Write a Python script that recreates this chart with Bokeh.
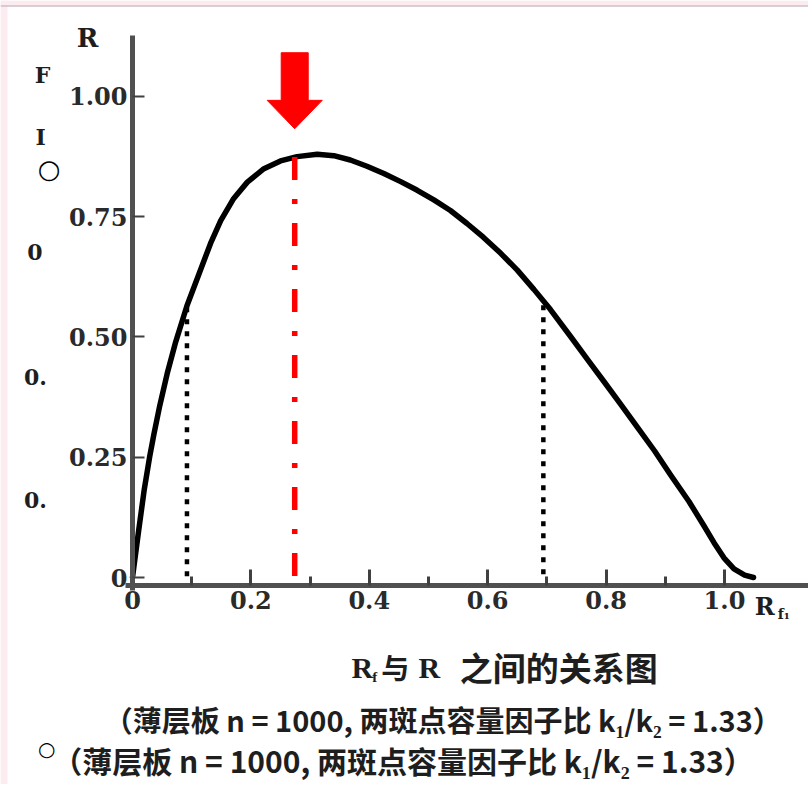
from bokeh.plotting import figure
from bokeh.models import Range1d, FixedTicker, NumeralTickFormatter, Label, BoxAnnotation, Span
from bokeh.embed import file_html
from bokeh.resources import INLINE

# ---- data ----
rf = [0.0, 0.010, 0.020, 0.029, 0.036, 0.046, 0.0586, 0.073, 0.092, 0.115, 0.132,
      0.149, 0.171, 0.194, 0.222, 0.250, 0.278, 0.312, 0.340, 0.368, 0.396,
      0.4245, 0.453, 0.481, 0.509, 0.537, 0.565, 0.593, 0.622, 0.650, 0.678,
      0.706, 0.740, 0.770, 0.796, 0.826, 0.853, 0.882, 0.909, 0.940, 0.965,
      0.982, 0.999, 1.016, 1.034, 1.049]
res = [0.0, 0.094, 0.184, 0.251, 0.297, 0.357, 0.424, 0.490, 0.565, 0.640, 0.695,
       0.742, 0.788, 0.822, 0.850, 0.866, 0.875, 0.880, 0.877, 0.868, 0.855,
       0.840, 0.823, 0.805, 0.785, 0.763, 0.736, 0.707, 0.674, 0.639, 0.599,
       0.557, 0.501, 0.451, 0.408, 0.358, 0.312, 0.263, 0.213, 0.158, 0.108,
       0.073, 0.041, 0.018, 0.005, 0.0]

x_ticks = [0, 0.2, 0.4, 0.6, 0.8, 1.0]
x_minor = [0.1, 0.3, 0.5, 0.7, 0.9]
y_ticks = [0, 0.25, 0.5, 0.75, 1.0]

peak_rf = 0.274      # red dash-dot marker
peak_r = 0.874
dot_rf = [0.092, 0.694]   # dotted markers
dot_r = [0.562, 0.566]

arrow_top = 1.091
arrow_base = 0.992
arrow_tip = 0.933
arrow_shaft_half = 0.0228
arrow_head_half = 0.0465

title1 = "之间的关系图"
note = "（薄层板 n = 1000, 两斑点容量因子比 k₁/k₂ = 1.33）"

p = figure(width=808, height=784, output_backend="svg", toolbar_location=None,
           x_range=Range1d(-0.22297, 1.14189), y_range=Range1d(-0.43035, 1.19958),
           min_border=0)
p.grid.visible = False
p.outline_line_color = None
p.background_fill_color = "white"
p.border_fill_color = "white"

# pale scan border (left and top)
p.add_layout(BoxAnnotation(right=-0.2111, fill_color="#fcecef", fill_alpha=1,
                           line_color=None, level="underlay"))
p.add_layout(BoxAnnotation(bottom=1.1892, fill_color="#fcecef", fill_alpha=1,
                           line_color=None, level="underlay"))
p.add_layout(Span(location=1.1882, dimension="width", line_color="#cdbfc3",
                  line_width=1.5, level="underlay"))

for ax in (p.xaxis[0], p.yaxis[0]):
    ax.axis_line_width = 5
    ax.axis_line_color = "#505050"
    ax.major_tick_out = 0
    ax.minor_tick_out = 0
    ax.major_tick_line_color = "#404040"
    ax.minor_tick_line_color = "#404040"
    ax.major_label_text_font = "DejaVu Serif"
    ax.major_label_text_font_style = "bold"
    ax.major_label_text_font_size = "24px"
    ax.major_label_text_color = "#2a2a2a"

p.xaxis.fixed_location = -0.0166
p.xaxis.bounds = (-0.012, 1.142)
p.xaxis.ticker = FixedTicker(ticks=x_ticks, minor_ticks=x_minor)
p.xaxis.formatter = NumeralTickFormatter(format="0.0")
p.xaxis.major_label_overrides = {0: "0"}
p.xaxis.major_tick_in = 16
p.xaxis.minor_tick_in = 9
p.xaxis.major_tick_line_width = 3
p.xaxis.minor_tick_line_width = 3
p.xaxis.major_label_standoff = 6

p.yaxis.fixed_location = 0
p.yaxis.bounds = (-0.027, 1.127)
p.yaxis.ticker = FixedTicker(ticks=y_ticks, minor_ticks=[])
p.yaxis.formatter = NumeralTickFormatter(format="0.00")
p.yaxis.major_label_overrides = {0: "0"}
p.yaxis.major_tick_in = 12
p.yaxis.major_tick_line_width = 2
p.yaxis.major_label_standoff = 5

# curve
p.line(rf, res, line_color="black", line_width=5.5, line_join="round", line_cap="round")

# dotted markers
p.segment(x0=dot_rf, y0=dot_r, x1=dot_rf, y1=[0, 0], line_color="black",
          line_width=4.5, line_dash="5 7")

# red dash-dot marker at the maximum
p.line([peak_rf, peak_rf], [peak_r, 0], line_color="#ff0000", line_width=5.5,
       line_dash="23 19 5 19")

# red arrow
ax_ = [peak_rf - arrow_shaft_half, peak_rf + arrow_shaft_half, peak_rf + arrow_shaft_half,
       peak_rf + arrow_head_half, peak_rf, peak_rf - arrow_head_half, peak_rf - arrow_shaft_half]
ay_ = [arrow_top, arrow_top, arrow_base, arrow_base, arrow_tip, arrow_base, arrow_base]
p.patch(ax_, ay_, fill_color="#ff0000", line_color="#ff0000", line_width=1)

serif = "DejaVu Serif"
times = "Liberation Serif"
cjk = "Noto Sans CJK SC"


def lab(x, y, t, font, size, align="center", base="middle", color="#1e1e1e", style="bold"):
    p.add_layout(Label(x=x, y=y, text=t, text_font=font, text_font_size=size,
                       text_font_style=style, text_align=align, text_baseline=base,
                       text_color=color))


# axis titles
lab(-0.076, 1.121, "R", serif, "26px")
lab(1.051, -0.060, "R", serif, "24px", align="left")
lab(1.090, -0.075, "f₁", serif, "14px", align="left")

# stray scan marks on the left
lab(-0.152, 1.044, "F", serif, "22px")
lab(-0.155, 0.915, "I", serif, "22px")
lab(-0.141, 0.850, "○", "DejaVu Sans", "26px", style="normal", color="black")
lab(-0.165, 0.676, "0", serif, "22px")
lab(-0.164, 0.416, "0.", serif, "22px")
lab(-0.164, 0.162, "0.", serif, "22px")
lab(-0.145, -0.356, "○", "DejaVu Sans", "20px", style="normal", color="black")

# caption line 1: R_f 与 R 之间的关系图
lab(0.370, -0.187, "R", times, "30px", align="left")
lab(0.405, -0.206, "f", times, "15px", align="left")
lab(0.420, -0.187, "与", cjk, "28px", align="left")
lab(0.483, -0.187, "R", times, "30px", align="left")
lab(0.720, -0.187, title1, cjk, "33px")

# caption lines 2 and 3
lab(0.524, -0.295, note, cjk, "29px")
lab(0.457, -0.380, note, cjk, "30px")

open("out.html", "w").write(file_html(p, INLINE))
